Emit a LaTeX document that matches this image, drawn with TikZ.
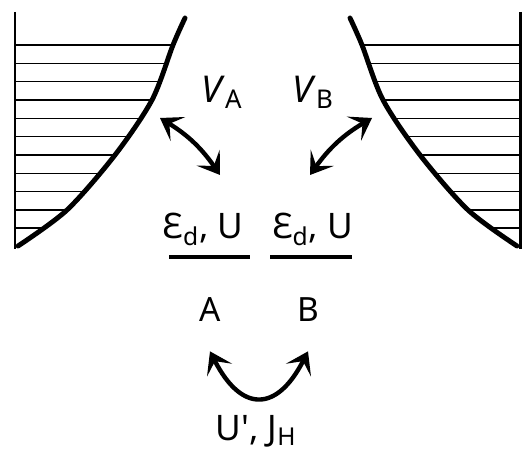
\documentclass[tikz,border=0pt]{standalone}
\usepackage{fontspec}
\setmainfont{Noto Sans}
\usepackage{tikz}
\usetikzlibrary{arrows.meta,positioning,calc}

\begin{document}
\begin{tikzpicture}[>={Stealth[length=0.42cm,width=0.56cm,inset=0.2cm]},
    link/.style={<->, line width=2.5pt},
    lab/.style={font=\fontsize{20}{24}\selectfont, inner sep=0pt},
    site/.style={font=\fontsize{19}{22}\selectfont, inner sep=0pt},
    levelbar/.style={fill=black, inner sep=0pt, minimum width=1.63cm, minimum height=0.08cm}]
  \useasboundingbox (0,0) rectangle (10.46,9.04);

  % the two baths (right one mirrored)
  \foreach \s/\dx in {1/0, -1/10.7} {
    \begin{scope}[xshift=\dx cm, xscale=\s]
      \begin{scope}
        \clip (0.3,8.8) -- (0.3,4.1) -- (0.4,4.14)
          -- plot[smooth] coordinates {(0.4,4.14) (1.34,4.84) (2.3,5.94) (3.04,7.04) (3.46,8.14) (3.7,8.68)}
          -- (3.7,8.8) -- cycle;
        \foreach \i in {0,...,10} {
          \pgfmathtruncatemacro{\m}{mod(\i,3)}
          \ifnum\m=0
            \draw[line width=1.1pt] (0.3,8.14-0.366*\i) -- (4,8.14-0.366*\i);
          \else
            \draw[line width=0.6pt] (0.3,8.14-0.366*\i) -- (4,8.14-0.366*\i);
          \fi
        }
      \end{scope}
      \draw[line width=1.7pt] (0.3,8.8) -- (0.3,4.06);
      \draw[line width=2.8pt, line cap=round] plot[smooth] coordinates
        {(0.36,4.12) (1.34,4.84) (2.3,5.94) (3.04,7.04) (3.46,8.14) (3.7,8.68)};
    \end{scope}
  }

  % levels
  \node[levelbar] (lA) at (4.19,3.9) {};
  \node[levelbar] (lB) at (6.22,3.9) {};
  \node[lab, anchor=base] (eA) at (4.06,4.26) {Ɛ\textsubscript{d}, U};
  \node[lab, anchor=base] (eB) at (6.25,4.26) {Ɛ\textsubscript{d}, U};
  \node[site, anchor=base] (A) at (4.2,2.6) {A};
  \node[site, anchor=base] (B) at (6.16,2.6) {B};

  % hybridisation
  \node[lab, font=\fontsize{21}{24}\selectfont] (VA) at (4.44,7.2) {\textit{V}\textsubscript{A}};
  \node[lab, font=\fontsize{21}{24}\selectfont] (VB) at (6.26,7.2) {\textit{V}\textsubscript{B}};
  \coordinate (vA1) at (3.2,6.68);
  \coordinate (vA2) at (4.4,5.54);
  \coordinate (vB1) at (7.44,6.68);
  \coordinate (vB2) at (6.2,5.54);
  \draw[link] (vA1) to[bend left=12] (vA2);
  \draw[link] (vB1) to[bend right=12] (vB2);

  % inter-site coupling
  \draw[link] ([yshift=-0.58cm]A.south) to[out=-63,in=-117,looseness=1.8] ([yshift=-0.58cm]B.south);
  \node[lab, anchor=base] (UJ) at (5.12,0.24) {U\textquotesingle, J\textsubscript{H}};
\end{tikzpicture}
\end{document}
